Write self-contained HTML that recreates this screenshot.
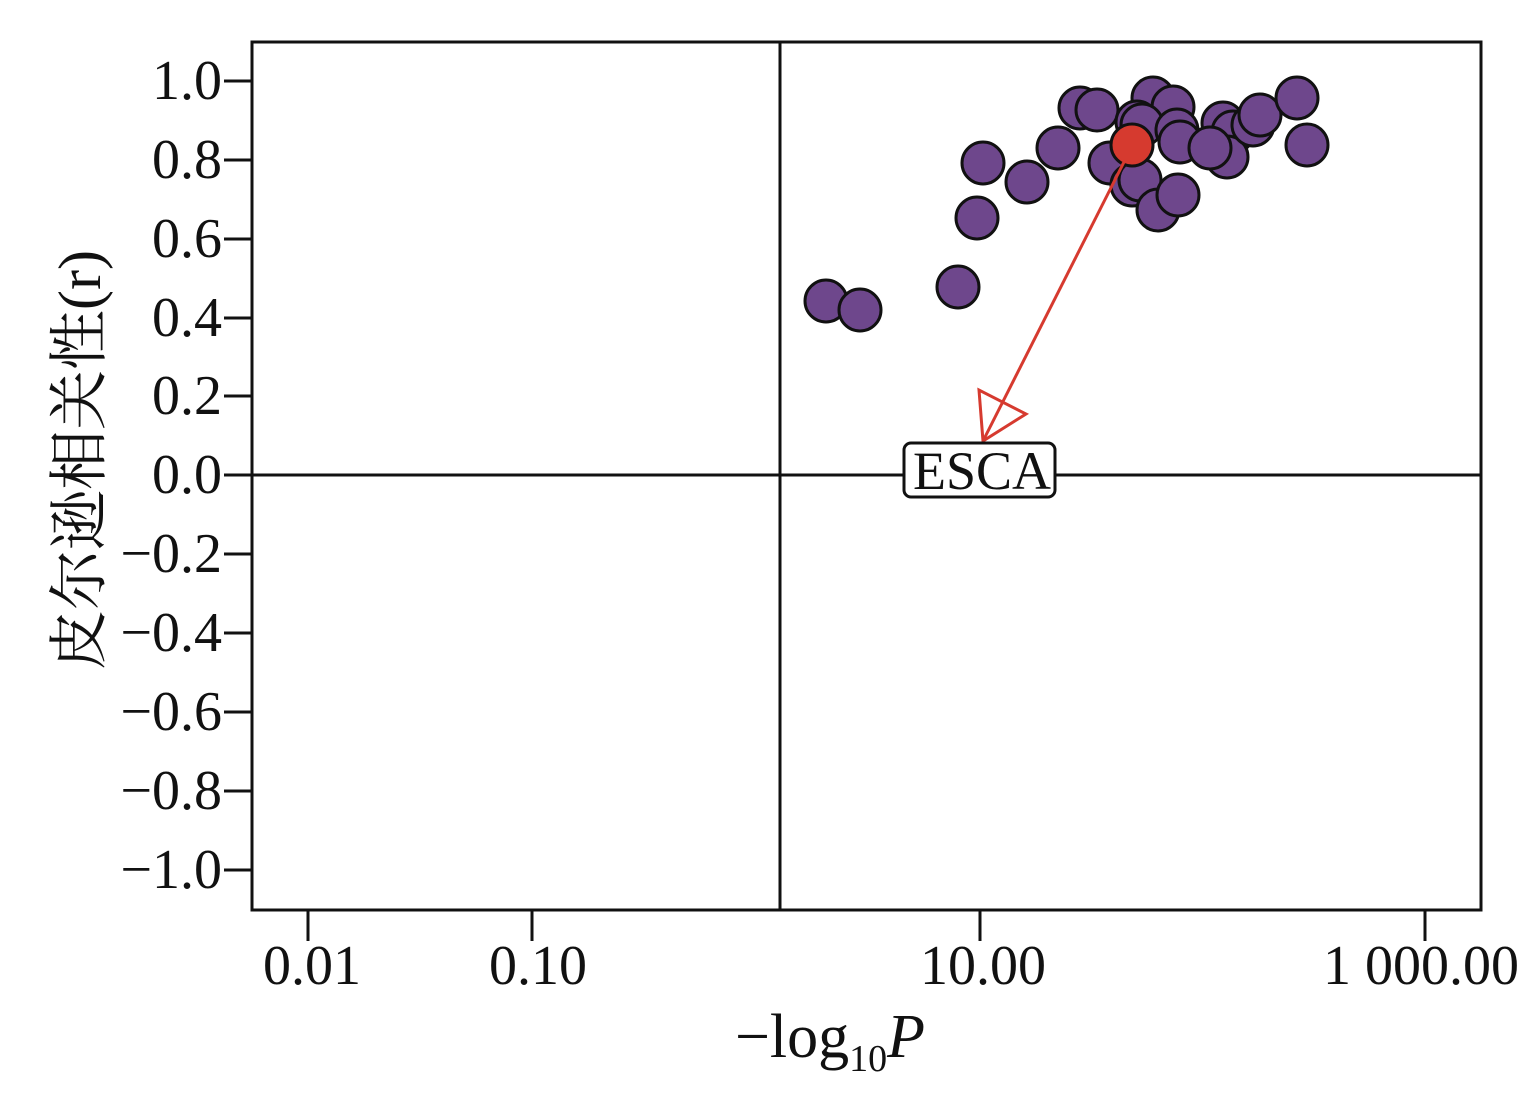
<!DOCTYPE html>
<html><head><meta charset="utf-8"><style>html,body{margin:0;padding:0;background:#fff}</style></head>
<body>
<svg width="1535" height="1109" xmlns="http://www.w3.org/2000/svg" font-family="'Liberation Serif','Noto Serif CJK SC',serif">
<rect x="252" y="42" width="1229" height="868" fill="none" stroke="#111" stroke-width="3"/>
<line x1="780" y1="42" x2="780" y2="910" stroke="#111" stroke-width="3"/>
<line x1="252" y1="475" x2="1481" y2="475" stroke="#111" stroke-width="3"/>
<g stroke="#111" stroke-width="3">
<line x1="224" y1="81" x2="252" y2="81"/><line x1="224" y1="160" x2="252" y2="160"/>
<line x1="224" y1="239" x2="252" y2="239"/><line x1="224" y1="318" x2="252" y2="318"/>
<line x1="224" y1="396" x2="252" y2="396"/><line x1="224" y1="475" x2="252" y2="475"/>
<line x1="224" y1="554" x2="252" y2="554"/><line x1="224" y1="633" x2="252" y2="633"/>
<line x1="224" y1="712" x2="252" y2="712"/><line x1="224" y1="791" x2="252" y2="791"/>
<line x1="224" y1="870" x2="252" y2="870"/>
<line x1="308" y1="910" x2="308" y2="941"/><line x1="532" y1="910" x2="532" y2="941"/>
<line x1="980" y1="910" x2="980" y2="941"/><line x1="1425" y1="910" x2="1425" y2="941"/>
</g>
<g font-size="56" text-anchor="end" fill="#111">
<text x="222" y="99">1.0</text><text x="222" y="178">0.8</text><text x="222" y="257">0.6</text>
<text x="222" y="336">0.4</text><text x="222" y="414">0.2</text><text x="222" y="493">0.0</text>
<text x="222" y="572">−0.2</text><text x="222" y="651">−0.4</text><text x="222" y="730">−0.6</text>
<text x="222" y="809">−0.8</text><text x="222" y="888">−1.0</text>
</g>
<g font-size="56" text-anchor="middle" fill="#111">
<text x="312" y="984">0.01</text><text x="538" y="984">0.10</text>
<text x="983" y="984">10.00</text><text x="1421" y="984">1 000.00</text>
</g>
<text x="830" y="1057" font-size="62" text-anchor="middle" fill="#111">−log<tspan font-size="38" dy="14">10</tspan><tspan dy="-14" font-style="italic">P</tspan></text>
<text transform="translate(100,460) rotate(-90)" font-size="60" text-anchor="middle" fill="#111">皮尔逊相关性(r)</text>
<g fill="#6e478c" stroke="#111" stroke-width="3">
<circle cx="826" cy="301" r="21"/><circle cx="860" cy="310" r="21"/><circle cx="958" cy="287" r="21"/>
<circle cx="977" cy="218" r="21"/><circle cx="983" cy="163" r="21"/><circle cx="1027" cy="182" r="21"/>
<circle cx="1058" cy="148" r="21"/><circle cx="1080" cy="108" r="21"/><circle cx="1097" cy="110" r="21"/>
<circle cx="1110" cy="163" r="21"/><circle cx="1132" cy="185" r="21"/><circle cx="1140" cy="180" r="21"/>
<circle cx="1158" cy="210" r="21"/><circle cx="1178" cy="195" r="21"/>
<circle cx="1153" cy="98" r="21"/><circle cx="1173" cy="107" r="21"/>
<circle cx="1137" cy="122" r="21"/><circle cx="1142" cy="125" r="21"/>
<circle cx="1177" cy="130" r="21"/><circle cx="1180" cy="142" r="21"/>
<circle cx="1223" cy="123" r="21"/><circle cx="1233" cy="132" r="21"/>
<circle cx="1227" cy="157" r="21"/><circle cx="1210" cy="148" r="21"/>
<circle cx="1253" cy="125" r="21"/><circle cx="1260" cy="115" r="21"/>
<circle cx="1297" cy="98" r="21"/><circle cx="1307" cy="145" r="21"/>
</g>
<circle cx="1132" cy="145" r="21" fill="#d63a2f" stroke="#111" stroke-width="3"/>
<line x1="1125" y1="160" x2="983" y2="441" stroke="#d63a2f" stroke-width="3"/>
<polygon points="983,441 979,390 1026,414" fill="none" stroke="#d63a2f" stroke-width="3"/>
<rect x="904" y="443" width="151" height="54" rx="7" fill="#fff" stroke="#111" stroke-width="3"/>
<text x="982" y="489" font-size="54" text-anchor="middle" fill="#111">ESCA</text>
</svg>
</body></html>
